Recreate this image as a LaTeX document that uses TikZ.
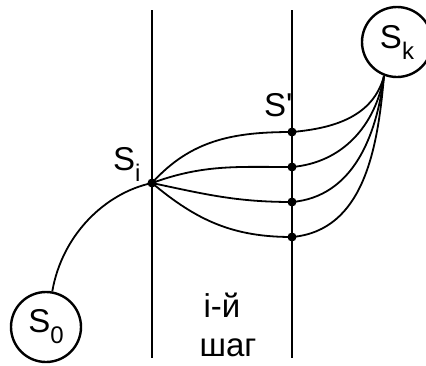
\documentclass[tikz,border=0pt]{standalone}
\usepackage{fontspec}
\setmainfont{Liberation Sans}[Ligatures=TeXOff]
\newcommand\mysub[1]{\raisebox{-11pt}{\fontsize{24}{24}\selectfont #1}}
\begin{document}
\begin{tikzpicture}[x=1pt,y=-1pt,
  lbl/.style={font=\fontsize{33}{33}\selectfont, inner sep=0pt},
  stnode/.style={draw, circle, line width=2.4pt, minimum size=70pt, inner sep=0pt, font=\fontsize{33}{33}\selectfont},
  wire/.style={line width=1.8pt},
  vline/.style={line width=1.9pt},
  pt/.style={circle, fill=black, inner sep=0pt, minimum size=9pt}]
\useasboundingbox (0,0) rectangle (426,365);
% vertical lines
\coordinate (l1t) at (152,10); \coordinate (l1b) at (152,358);
\coordinate (l2t) at (292,10); \coordinate (l2b) at (292,358);
\draw[vline] (l1t) -- (l1b);
\draw[vline] (l2t) -- (l2b);
% states
\node[stnode] (s0) at (46,327) {S\mysub{0}};
\node[stnode] (sk) at (397,42) {S\mysub{k}};
\node[pt] (si) at (152,183) {};
\node[pt] (p1) at (292,132) {};
\node[pt] (p2) at (292,167) {};
\node[pt] (p3) at (292,202) {};
\node[pt] (p4) at (292,237) {};
% labels
\node[lbl, anchor=base west] (lsi) at (113,170) {S\mysub{i}};
\node[lbl, anchor=base west] (lsp) at (264,116) {S'};
\node[lbl, anchor=base] (t1) at (222,317) {і-й};
\node[lbl, anchor=base] (t2) at (228,356) {шаг};
% connectors
\draw[wire] (s0.80) .. controls (62,235) and (105,193) .. (si.center);
\draw[wire] (si.center) to[out=48, in=180] (p1.center);
\draw[wire] (si.center) to[out=20, in=180] (p2.center);
\draw[wire] (si.center) to[out=-12, in=180] (p3.center);
\draw[wire] (si.center) to[out=-40, in=180] (p4.center);
\coordinate (skb) at (384,76);
\draw[wire] (p1.center) to[out=5, in=-105] (skb);
\draw[wire] (p2.center) to[out=5, in=-100] (skb);
\draw[wire] (p3.center) to[out=5, in=-97] (skb);
\draw[wire] (p4.center) to[out=5, in=-95] (skb);
\end{tikzpicture}
\end{document}
